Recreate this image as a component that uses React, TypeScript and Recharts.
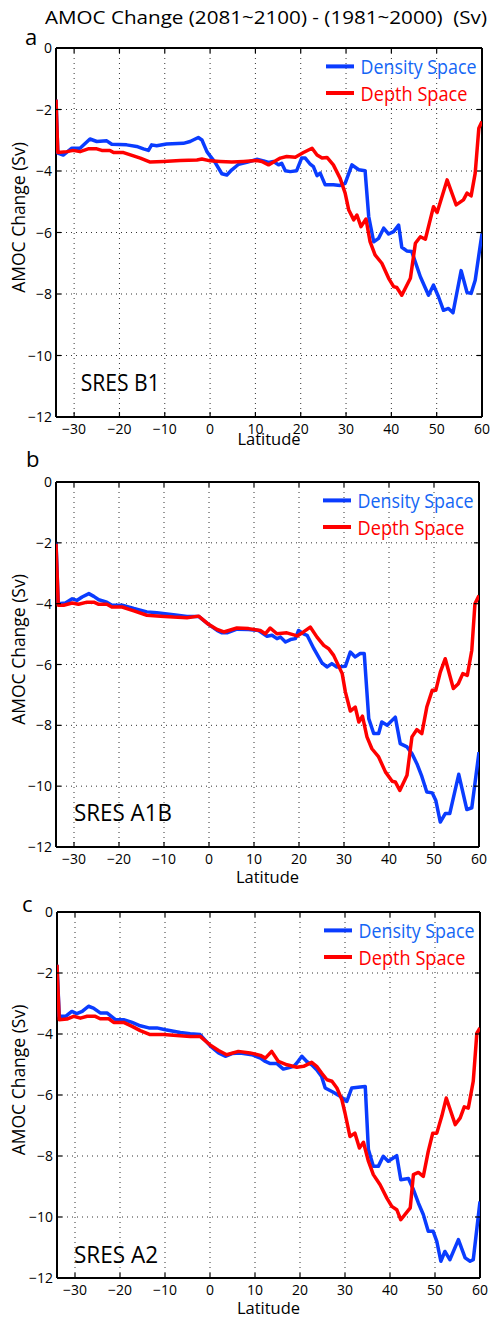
import React from 'react'
import { CartesianGrid, Legend, Line, LineChart, XAxis, YAxis } from 'recharts'

type Pt = [number, number]

const LAT_TICKS = [-30, -20, -10, 0, 10, 20, 30, 40, 50, 60]
const AMOC_TICKS = [0, -2, -4, -6, -8, -10, -12]
const SERIES_NAMES = ['Density Space', 'Depth Space']
const SCENARIOS = ['SRES B1', 'SRES A1B', 'SRES A2']
const PANEL_LETTERS = ['a', 'b', 'c']
const TITLE = 'AMOC Change (2081~2100) - (1981~2000)  (Sv)'

// [latitude, Sv]
const B1_DENSITY: Pt[] = [
  [-34, -1.68], [-33.6, -3.42], [-32.4, -3.48], [-30.5, -3.26], [-28.7, -3.26], [-26.5, -2.96],
  [-25, -3.04], [-22.8, -3.02], [-21.7, -3.13], [-18.4, -3.15], [-16.2, -3.2], [-14.7, -3.28],
  [-13.6, -3.33], [-12.9, -3.15], [-11.8, -3.18], [-9.6, -3.12], [-5.9, -3.1], [-4.4, -3.04],
  [-2.6, -2.91], [-1.8, -2.99], [-0.7, -3.37], [0, -3.51], [1.1, -3.72], [2.6, -4.09],
  [3.7, -4.13], [4.8, -3.96], [6.3, -3.78], [8.1, -3.72], [10.3, -3.62], [11.8, -3.67],
  [12.9, -3.72], [14, -3.69], [15.1, -3.8], [15.8, -3.75], [16.6, -3.99], [17.7, -4.02],
  [19.1, -3.99], [20.2, -3.58], [21, -3.58], [22.1, -3.78], [22.8, -3.86], [23.6, -4.15],
  [24.3, -4.07], [25.4, -4.45], [27.2, -4.45], [28.7, -4.47], [29.8, -4.4], [31.3, -3.8],
  [32.8, -3.96], [34.2, -3.99], [35, -5.48], [36.1, -6.3], [37.2, -6.19], [38.3, -5.86],
  [39.4, -6.05], [40.5, -5.97], [41.6, -5.76], [42.3, -6.48], [43.4, -6.6], [44.5, -6.62],
  [46.4, -7.44], [48.2, -8.04], [49.3, -7.71], [50.4, -8.09], [51.5, -8.53], [52.6, -8.47],
  [53.6, -8.61], [55.4, -7.24], [56.7, -7.95], [57.6, -7.98], [58.5, -7.55], [60, -6.03],
]

const B1_DEPTH: Pt[] = [
  [-34, -1.68], [-33.6, -3.4], [-31.6, -3.37], [-30.2, -3.33], [-28.7, -3.37], [-26.9, -3.28],
  [-25, -3.28], [-23.9, -3.33], [-22.1, -3.33], [-21.3, -3.4], [-19.1, -3.4], [-16.9, -3.51],
  [-15.4, -3.58], [-13.2, -3.71], [-10.3, -3.69], [-6.6, -3.66], [-2.9, -3.64], [-1.8, -3.61],
  [0, -3.67], [2.2, -3.69], [4.8, -3.71], [7.4, -3.69], [10.3, -3.66], [11.4, -3.69],
  [12.9, -3.8], [14, -3.71], [15.5, -3.58], [16.9, -3.53], [18.8, -3.55], [20.6, -3.4],
  [22.5, -3.26], [23.6, -3.48], [24.7, -3.58], [25.8, -3.56], [27.2, -3.8], [28.7, -4.24],
  [29.8, -4.72], [30.6, -5.27], [31.7, -5.59], [32.4, -5.43], [33.3, -5.81], [34.4, -5.56],
  [35.3, -6.3], [36.4, -6.73], [37.9, -7.0], [39.4, -7.49], [40.5, -7.76], [41.2, -7.79],
  [42.3, -8.04], [44.2, -7.49], [45.3, -6.35], [46.4, -6.14], [47.5, -6.22], [49.3, -5.16],
  [50.1, -5.35], [52.3, -4.29], [54.3, -5.1], [55.9, -4.94], [56.7, -4.72], [57.6, -4.81],
  [58.5, -4.07], [59.3, -2.61], [60, -2.39],
]

const A1B_DENSITY: Pt[] = [
  [-34, -1.97], [-33.5, -4.0], [-31.9, -3.98], [-30.4, -3.84], [-29.3, -3.89], [-28.2, -3.78],
  [-26.7, -3.67], [-25.6, -3.76], [-24.5, -3.87], [-22.7, -3.95], [-21.6, -4.05], [-19.3, -4.05],
  [-16.7, -4.16], [-13.8, -4.27], [-11.6, -4.3], [-7.9, -4.36], [-4.9, -4.42], [-2.3, -4.42],
  [-0.1, -4.68], [1.8, -4.88], [2.9, -4.96], [4, -4.96], [6.2, -4.84], [8.8, -4.85],
  [11, -4.88], [12.9, -5.07], [14, -5.04], [15.1, -5.15], [15.9, -5.1], [17, -5.26],
  [18.1, -5.18], [19.2, -5.15], [19.9, -4.88], [21, -4.99], [21.8, -5.04], [23.3, -5.48],
  [25.1, -5.95], [26.2, -6.08], [27.3, -5.97], [28.4, -6.08], [30.3, -6.06], [31.4, -5.59],
  [32.5, -5.75], [33.6, -5.64], [34.5, -5.64], [35.5, -7.78], [36.6, -8.27], [37.7, -8.27],
  [38.4, -7.89], [39.6, -8.0], [41.4, -7.73], [42.5, -8.6], [44, -8.71], [45.1, -8.93],
  [46.2, -9.26], [47.3, -9.68], [48.4, -10.19], [49.6, -10.22], [50.4, -10.47], [51.4, -11.18],
  [52.5, -10.9], [53.5, -10.9], [55.5, -9.61], [57.3, -10.77], [58.4, -10.71], [60, -8.88],
]

const A1B_DEPTH: Pt[] = [
  [-34, -2.03], [-33.5, -4.05], [-32.3, -4.05], [-30.4, -3.98], [-29, -4.02], [-27.1, -3.95],
  [-25.6, -3.95], [-24.5, -4.02], [-22.7, -4.02], [-21.6, -4.11], [-19.3, -4.11], [-16.7, -4.24],
  [-13.8, -4.38], [-10.8, -4.41], [-7.9, -4.44], [-4.9, -4.46], [-2.3, -4.41], [-0.1, -4.68],
  [1.8, -4.85], [3.3, -4.93], [6.2, -4.8], [8.8, -4.82], [11.4, -4.88], [12.5, -4.99],
  [13.6, -4.8], [15.1, -4.99], [17.3, -4.96], [19.6, -5.06], [21, -4.93], [22.5, -4.77],
  [24, -5.1], [25.5, -5.37], [26.6, -5.48], [27.7, -5.7], [29.6, -6.3], [30.3, -6.9],
  [31.4, -7.53], [32.5, -7.4], [33.3, -7.89], [34.1, -7.7], [35.1, -8.38], [36.2, -8.77],
  [37.7, -9.04], [39.2, -9.53], [40.7, -9.84], [41.4, -9.86], [42.4, -10.14], [44, -9.64],
  [45.1, -8.38], [46.2, -8.14], [47.3, -8.27], [48.4, -7.4], [49.6, -6.85], [50.4, -6.85],
  [51.4, -6.25], [52.5, -5.81], [54.3, -6.79], [55.4, -6.63], [56.4, -6.3], [57.4, -6.36],
  [58.4, -5.53], [59.1, -4.0], [60, -3.73],
]

const A2_DENSITY: Pt[] = [
  [-34, -1.73], [-33.5, -3.42], [-32.1, -3.42], [-30.7, -3.26], [-29.6, -3.33], [-28.4, -3.26],
  [-27, -3.09], [-25.9, -3.15], [-24.4, -3.31], [-22.9, -3.31], [-21, -3.53], [-19.2, -3.53],
  [-17.3, -3.62], [-15.5, -3.73], [-13.6, -3.8], [-11.8, -3.8], [-9.9, -3.86], [-6.6, -3.95],
  [-4.4, -3.99], [-2.2, -4.02], [0.1, -4.4], [1.9, -4.62], [3.4, -4.73], [4.9, -4.64],
  [6.7, -4.62], [9.3, -4.68], [11.2, -4.79], [12.3, -4.9], [13.4, -4.97], [14.9, -4.97],
  [15.6, -5.06], [16.3, -5.15], [17.4, -5.11], [18.6, -5.06], [19.3, -4.95], [20.4, -4.73],
  [21.5, -4.9], [22.6, -5.01], [23.7, -5.17], [24.8, -5.39], [25.6, -5.77], [27.4, -5.91],
  [28.9, -6.04], [30.4, -6.21], [31.5, -5.77], [33.4, -5.74], [34.5, -5.72], [35.2, -7.79],
  [36.3, -8.34], [37.4, -8.34], [38.5, -8.01], [39.6, -8.17], [41.5, -7.99], [42.4, -8.78],
  [44.1, -8.74], [45.2, -9.1], [46.3, -9.54], [47.4, -9.92], [48.5, -10.47], [49.6, -10.47],
  [50.4, -10.8], [51.3, -11.45], [52.2, -11.13], [53.3, -11.4], [55.2, -10.74], [56.7, -11.34],
  [57.8, -11.45], [58.5, -11.4], [60, -9.49],
]

const A2_DEPTH: Pt[] = [
  [-34, -1.73], [-33.5, -3.53], [-31.8, -3.51], [-30.3, -3.42], [-28.8, -3.48], [-27.3, -3.42],
  [-25.5, -3.42], [-24.4, -3.5], [-22.5, -3.5], [-21.4, -3.62], [-19.2, -3.62], [-17.3, -3.75],
  [-15.5, -3.89], [-13.3, -4.02], [-10.3, -4.02], [-7.4, -4.05], [-4.4, -4.08], [-2.2, -4.08],
  [0.1, -4.37], [1.9, -4.54], [3.7, -4.68], [6.3, -4.57], [8.9, -4.62], [11.2, -4.7],
  [12.3, -4.79], [13.7, -4.57], [15.2, -4.9], [17.1, -5.01], [19.3, -5.09], [20.8, -5.06],
  [22.6, -4.93], [23.7, -5.06], [24.8, -5.28], [26, -5.5], [27.1, -5.55], [28.2, -5.77],
  [29.3, -6.15], [30, -6.59], [31.1, -7.36], [32.2, -7.25], [33.2, -7.74], [34.1, -7.55],
  [35.2, -8.17], [36.3, -8.61], [37.8, -8.94], [39.3, -9.38], [40.4, -9.65], [41.5, -9.76],
  [42.4, -10.09], [44.5, -9.7], [45.2, -8.61], [46.3, -8.54], [47.4, -8.67], [48.5, -7.85],
  [49.5, -7.25], [50.4, -7.25], [51.5, -6.7], [52.5, -6.1], [54.5, -6.97], [55.6, -6.75],
  [56.5, -6.39], [57.4, -6.43], [58.5, -5.55], [59.3, -3.97], [60, -3.8],
]

const BLUE = '#0a3cff'
const BLUE_TEXT = '#1466f5'
const RED = '#ff0000'
const FONT = "'Open Sans', 'Noto Sans', sans-serif"

const minus = (v: number) => String(v).replace('-', '\u2212')

type Geo = {
  left: number
  right: number
  top: number
  bottom: number
  latBase: number
  letterX: number
  letterY: number
  sresX: number
  sresBase: number
  sresLen: number
}

const GEOS: Geo[] = [
  { left: 56, right: 482, top: 48, bottom: 417, latBase: 27.5, letterX: 25, letterY: 45, sresX: 80.7, sresBase: 391, sresLen: 79 },
  { left: 56, right: 479, top: 482, bottom: 847, latBase: 36, letterX: 26, letterY: 467, sresX: 74, sresBase: 820.7, sresLen: 98 },
  { left: 57, right: 480, top: 912, bottom: 1278, latBase: 35.5, letterX: 22, letterY: 911.7, sresX: 74, sresBase: 1262.7, sresLen: 84 },
]

const toRows = (pts: Pt[]) => pts.map(([lat, v]) => ({ lat, v }))

// plot box edges, taken from the chart's own layout
const boxRows = ({ offset }: any) => [offset.top, offset.top + offset.height]
const boxCols = ({ offset }: any) => [offset.left, offset.left + offset.width]

// MATLAB style: tick marks point into the box, labels sit outside
function BottomTick(props: any) {
  const { x, y, payload } = props
  return (
    <g>
      <path d={`M${x},${y}V${y - 5}`} stroke="#000" strokeWidth={1.2} fill="none" />
      <text x={x} y={y + 7} dy="0.72em" textAnchor="middle" fontFamily={FONT} fontSize={14} fill="#000">
        {minus(payload.value)}
      </text>
    </g>
  )
}

function TopTick(props: any) {
  const { x, y } = props
  return <path d={`M${x},${y}V${y + 5}`} stroke="#000" strokeWidth={1.2} fill="none" />
}

function LeftTick(props: any) {
  const { x, y, payload } = props
  return (
    <g>
      <path d={`M${x},${y}H${x + 5}`} stroke="#000" strokeWidth={1.2} fill="none" />
      <text x={x - 4} y={y} dy="0.36em" textAnchor="end" fontFamily={FONT} fontSize={14} fill="#000">
        {minus(payload.value)}
      </text>
    </g>
  )
}

function RightTick(props: any) {
  const { x, y } = props
  return <path d={`M${x},${y}H${x - 5}`} stroke="#000" strokeWidth={1.2} fill="none" />
}

function LegendBox(props: any) {
  const items = props.payload || []
  return (
    <svg width={165} height={62} style={{ overflow: 'visible', display: 'block' }}>
      {items.map((it: any, i: number) => {
        const y = i === 0 ? 18.4 : 45
        return (
          <g key={i}>
            <line x1={4} x2={32} y1={y} y2={y} stroke={it.color} strokeWidth={4} />
            <text
              x={38.5}
              y={y + 7.8}
              fontFamily={FONT}
              fontSize={20.5}
              fill={i === 0 ? BLUE_TEXT : RED}
              textLength={i === 0 ? 116 : 107}
              lengthAdjust="spacingAndGlyphs"
            >
              {it.value}
            </text>
          </g>
        )
      })}
    </svg>
  )
}

function Panel({ geo, density, depth }: { geo: Geo; density: Pt[]; depth: Pt[] }) {
  const mTop = 49
  const T = geo.top - mTop - 1
  const xh = 45
  const H = geo.bottom - T + xh
  return (
    <div style={{ position: 'absolute', left: 0, top: T, width: 492, height: H }}>
      <LineChart width={492} height={H} margin={{ top: mTop, right: 492 - geo.right - 1, bottom: 0, left: 0 }}>
        <CartesianGrid xAxisId="bottom" yAxisId="left" stroke="#333" strokeDasharray="1 4" />
        <CartesianGrid
          xAxisId="bottom"
          yAxisId="left"
          stroke="#000"
          strokeWidth={2}
          horizontalCoordinatesGenerator={boxRows}
          verticalCoordinatesGenerator={boxCols}
        />
        <XAxis
          xAxisId="bottom"
          type="number"
          dataKey="lat"
          domain={[-34, 60]}
          ticks={LAT_TICKS}
          allowDataOverflow
          height={xh}
          axisLine={false}
          tickLine={false}
          tickSize={0}
          tickMargin={0}
          tick={<BottomTick />}
          interval={0}
          label={{
            value: 'Latitude',
            content: (p: any) => {
              const vb = p.viewBox
              return (
                <text x={vb.x + vb.width / 2} y={vb.y + geo.latBase} textAnchor="middle" fontFamily={FONT} fontSize={16.5} fill="#000">
                  Latitude
                </text>
              )
            },
          }}
        />
        <XAxis
          xAxisId="top"
          orientation="top"
          type="number"
          dataKey="lat"
          domain={[-34, 60]}
          ticks={LAT_TICKS}
          allowDataOverflow
          height={1}
          axisLine={false}
          tickLine={false}
          tickSize={0}
          tickMargin={0}
          tick={<TopTick />}
          interval={0}
        />
        <YAxis
          yAxisId="left"
          type="number"
          domain={[-12, 0]}
          ticks={AMOC_TICKS}
          allowDataOverflow
          width={geo.left}
          axisLine={false}
          tickLine={false}
          tickSize={0}
          tickMargin={0}
          tick={<LeftTick />}
          interval={0}
          label={{
            value: 'AMOC Change (Sv)',
            content: (p: any) => {
              const vb = p.viewBox
              const cx = 18
              const cy = vb.y + vb.height / 2 - 15
              return (
                <text
                  x={cx}
                  y={cy}
                  transform={`rotate(-90 ${cx} ${cy})`}
                  textAnchor="middle"
                  dominantBaseline="central"
                  fontFamily={FONT}
                  fontSize={17.5}
                  fill="#000"
                >
                  AMOC Change (Sv)
                </text>
              )
            },
          }}
        />
        <YAxis
          yAxisId="right"
          orientation="right"
          type="number"
          domain={[-12, 0]}
          ticks={AMOC_TICKS}
          allowDataOverflow
          width={1}
          axisLine={false}
          tickLine={false}
          tickSize={0}
          tickMargin={0}
          tick={<RightTick />}
          interval={0}
        />
        <Legend
          layout="vertical"
          align="center"
          verticalAlign="middle"
          content={<LegendBox />}
          wrapperStyle={{ position: 'absolute', left: geo.right - 160, top: mTop + 1, width: 165, height: 62 }}
        />
        <Line
          xAxisId="bottom"
          yAxisId="left"
          data={toRows(density)}
          dataKey="v"
          name={SERIES_NAMES[0]}
          type="linear"
          stroke={BLUE}
          strokeWidth={3.5}
          strokeLinejoin="round"
          dot={false}
          activeDot={false}
          isAnimationActive={false}
        />
        <Line
          xAxisId="bottom"
          yAxisId="left"
          data={toRows(depth)}
          dataKey="v"
          name={SERIES_NAMES[1]}
          type="linear"
          stroke={RED}
          strokeWidth={3.5}
          strokeLinejoin="round"
          dot={false}
          activeDot={false}
          isAnimationActive={false}
        />
      </LineChart>
    </div>
  )
}

export default function App() {
  const sets: [Pt[], Pt[]][] = [
    [B1_DENSITY, B1_DEPTH],
    [A1B_DENSITY, A1B_DEPTH],
    [A2_DENSITY, A2_DEPTH],
  ]
  return (
    <div style={{ position: 'absolute', left: 0, top: 0, width: 492, height: 1317, background: '#fff', fontFamily: FONT }}>
      {GEOS.map((g, i) => (
        <Panel key={i} geo={g} density={sets[i][0]} depth={sets[i][1]} />
      ))}
      <svg width={492} height={1317} style={{ position: 'absolute', left: 0, top: 0, pointerEvents: 'none' }}>
        <text x={45} y={24} fontFamily={FONT} fontSize={18.5} fill="#000" textLength={442} lengthAdjust="spacingAndGlyphs" xmlSpace="preserve">
          {TITLE}
        </text>
        {GEOS.map((g, i) => (
          <g key={i}>
            <text x={g.letterX} y={g.letterY} fontFamily={FONT} fontSize={22} fill="#000">
              {PANEL_LETTERS[i]}
            </text>
            <text x={g.sresX} y={g.sresBase} fontFamily={FONT} fontSize={23} fill="#000" textLength={g.sresLen} lengthAdjust="spacingAndGlyphs">
              {SCENARIOS[i]}
            </text>
          </g>
        ))}
      </svg>
    </div>
  )
}
